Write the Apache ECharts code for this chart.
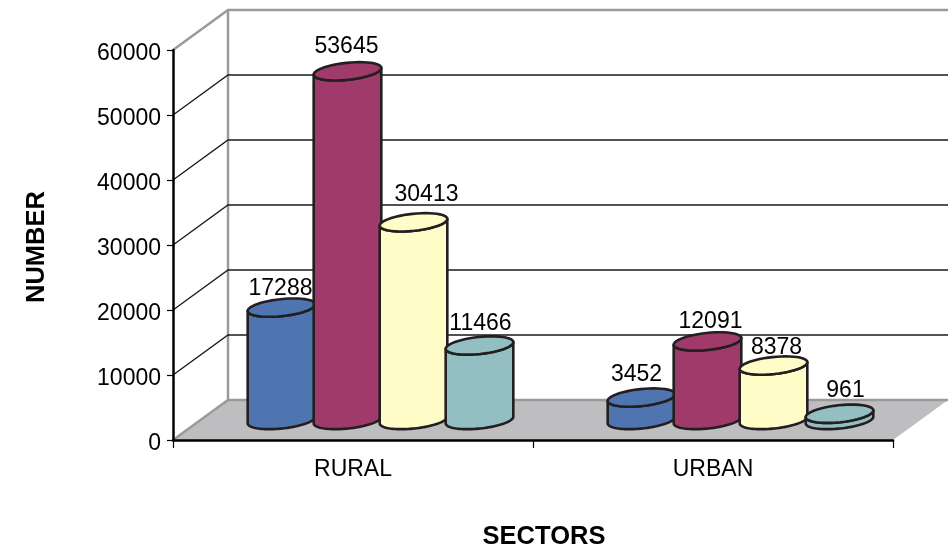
<!DOCTYPE html>
<html>
<head>
<meta charset="utf-8">
<style>html,body{margin:0;padding:0;background:#fff}#c{width:948px;height:552px}</style>
<script src="https://cdn.jsdelivr.net/npm/echarts@6/dist/echarts.min.js"></script>
</head>
<body>
<div id="c"></div>
<script>
const categories = ['RURAL', 'URBAN'];
const seriesA = [17288, 3452];
const seriesB = [53645, 12091];
const seriesC = [30413, 8378];
const seriesD = [11466, 961];
const yTicks = [0, 10000, 20000, 30000, 40000, 50000, 60000];

const colors = ['#4F75B1', '#A03A6B', '#FFFCC8', '#93BFC2'];
const labelShift = [
  [[-1, -19], [-5, -23]],
  [[-1, -25], [3, -20]],
  [[13, -28], [3, -18]],
  [[1, -22], [6, -23]]
];
const DX = 55, DY = 40, RX = 34, RY = 8.5, TILT = 6 * Math.PI / 180, STEP = 66;
const FONT = '"Liberation Sans", Arial, sans-serif';
const OUT = '#231F20';

function ell(cx, cy, from, to) {
  const pts = [], n = 48;
  for (let i = 0; i <= n; i++) {
    const t = from + (to - from) * i / n;
    const x = RX * Math.cos(t), y = RY * Math.sin(t);
    pts.push([cx + x * Math.cos(TILT) + y * Math.sin(TILT),
              cy - x * Math.sin(TILT) + y * Math.cos(TILT)]);
  }
  return pts;
}

function cylinder(idx) {
  return function (params, api) {
    const cat = api.value(0), val = api.value(1);
    const top = api.coord([cat, val]);
    const base = api.coord([cat, 0]);
    const cx = top[0] + DX / 2 + (idx - 1.5) * STEP;
    const ty = top[1] - DY / 2, by = base[1] - DY / 2;
    const front = ell(cx, by, 0, Math.PI);
    const back = ell(cx, ty, Math.PI, 0);
    const s = labelShift[idx][cat];
    return {
      type: 'group',
      children: [
        { type: 'polygon', shape: { points: front.concat(back) },
          style: { fill: colors[idx], stroke: OUT, lineWidth: 2.6, lineJoin: 'round' } },
        { type: 'polygon', shape: { points: ell(cx, ty, 0, 2 * Math.PI) },
          style: { fill: colors[idx], stroke: OUT, lineWidth: 2.6, lineJoin: 'round' } },
        { type: 'text', z2: 100,
          style: { x: cx + s[0], y: ty + s[1], text: String(val), fill: '#000',
                   font: '23px ' + FONT, align: 'center', verticalAlign: 'middle' } }
      ]
    };
  };
}

function walls(params, api) {
  const cs = params.coordSys;
  const L = cs.x, R = cs.x + cs.width, B = cs.y + cs.height, T = cs.y;
  const GRAY = '#9A9A9A';
  const kids = [
    { type: 'polygon', shape: { points: [[L, B], [L + DX, B - DY], [R + DX, B - DY], [R, B]] },
      style: { fill: '#BEBEC0' } },
    { type: 'polyline', shape: { points: [[L, T], [L + DX, T - DY], [R + DX, T - DY]] },
      style: { fill: null, stroke: GRAY, lineWidth: 2.5 } },
    { type: 'line', shape: { x1: L + DX, y1: T - DY, x2: L + DX, y2: B - DY },
      style: { stroke: GRAY, lineWidth: 2.5 } },
    { type: 'polyline', shape: { points: [[L, B], [L + DX, B - DY], [R + DX, B - DY]] },
      style: { fill: null, stroke: GRAY, lineWidth: 2.5 } }
  ];
  yTicks.slice(1, -1).forEach(function (v) {
    const y = api.coord([0, v])[1];
    kids.push({ type: 'polyline', shape: { points: [[L, y], [L + DX, y - DY], [R + DX, y - DY]] },
      style: { fill: null, stroke: '#1a1a1a', lineWidth: 1.3 } });
  });
  return { type: 'group', children: kids };
}

const chart = echarts.init(document.getElementById('c'), null, { renderer: 'canvas' });
chart.setOption({
  animation: false,
  backgroundColor: '#fff',
  grid: { left: 173, right: 55, top: 50, bottom: 112, containLabel: false, outerBoundsMode: 'none' },
  xAxis: {
    type: 'category', data: categories, z: 5,
    name: 'SECTORS', nameLocation: 'middle', nameGap: 84,
    nameTextStyle: { fontFamily: FONT, fontSize: 25.5, fontWeight: 'bold', color: '#000', padding: [0, 0, 0, 22] },
    axisLine: { show: true, lineStyle: { color: '#000', width: 2.5 } },
    axisTick: { show: true, alignWithLabel: false, length: 8, lineStyle: { color: '#000', width: 1.2 } },
    axisLabel: { fontFamily: FONT, fontSize: 23, color: '#000', margin: 18 },
    splitLine: { show: false }
  },
  yAxis: {
    type: 'value', min: 0, max: 60000, interval: 10000, z: 5,
    name: 'NUMBER', nameLocation: 'middle', nameGap: 123, nameRotate: 90,
    nameTextStyle: { fontFamily: FONT, fontSize: 25.5, fontWeight: 'bold', color: '#000', padding: [0, 4, 0, 0] },
    axisLine: { show: true, lineStyle: { color: '#000', width: 2.5 } },
    axisTick: { show: true, length: 6, lineStyle: { color: '#000', width: 1.2 } },
    axisLabel: { color: '#000', margin: 12,
                 formatter: function (v) { return '{a|' + v + '}'; },
                 rich: { a: { fontFamily: FONT, fontSize: 23, color: '#000', padding: [7, 0, 0, 0] } } },
    splitLine: { show: false }
  },
  series: [
    { type: 'custom', name: 'walls', renderItem: walls, data: [[0, 0]], silent: true },
    { type: 'custom', name: 'A', renderItem: cylinder(0), data: seriesA.map((v, i) => [i, v]) },
    { type: 'custom', name: 'B', renderItem: cylinder(1), data: seriesB.map((v, i) => [i, v]) },
    { type: 'custom', name: 'C', renderItem: cylinder(2), data: seriesC.map((v, i) => [i, v]) },
    { type: 'custom', name: 'D', renderItem: cylinder(3), data: seriesD.map((v, i) => [i, v]) }
  ]
});
</script>
</body>
</html>
